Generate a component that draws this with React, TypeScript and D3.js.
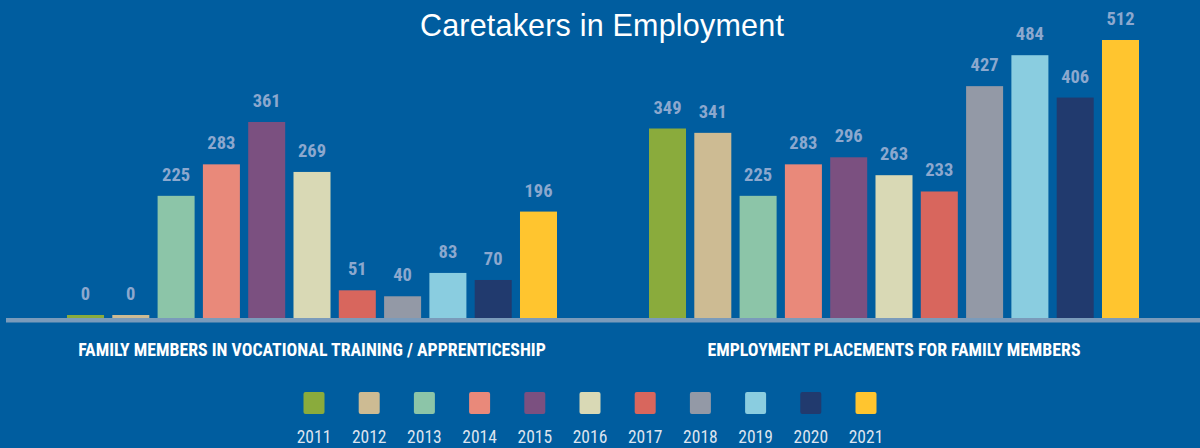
import React from "react";
import * as d3 from "d3";

const years = ["2011","2012","2013","2014","2015","2016","2017","2018","2019","2020","2021"];
const trainingValues = [0, 0, 225, 283, 361, 269, 51, 40, 83, 70, 196];
const placementValues = [349, 341, 225, 283, 296, 263, 233, 427, 484, 406, 512];
const yearColors = ["#8aab3c","#cdbb93","#8cc5a8","#e9897a","#7b5080","#d9d9b5","#d8665d","#9399a6","#8acde0","#213a6e","#ffc52f"];
const groupTitles = ["FAMILY MEMBERS IN VOCATIONAL TRAINING / APPRENTICESHIP", "EMPLOYMENT PLACEMENTS FOR FAMILY MEMBERS"];
const chartTitle = "Caretakers in Employment";

const W = 1200, H = 448;
const BASE = 318;
const condensed = "'Liberation Sans Narrow', 'Roboto Condensed', 'DejaVu Sans Condensed', Arial, sans-serif";

export default function App() {
  const y = d3.scaleLinear().domain([0, 512]).range([BASE, 40]);
  const groups = [
    { values: trainingValues, x: d3.scaleBand<string>().domain(years).range([67, 557]).paddingInner(0.183).paddingOuter(0), title: groupTitles[0] },
    { values: placementValues, x: d3.scaleBand<string>().domain(years).range([649, 1139]).paddingInner(0.183).paddingOuter(0), title: groupTitles[1] },
  ];
  const color = d3.scaleOrdinal<string, string>().domain(years).range(yearColors);
  const legendX = d3.scalePoint<string>().domain(years).range([314, 866]);

  return (
    <svg width={W} height={H} style={{ position: "absolute", left: 0, top: 0, display: "block" }}>
      <rect x={0} y={0} width={W} height={H} fill="#005d9f" />
      <text x={602} y={36} textAnchor="middle" fill="#ffffff" fontFamily="'Liberation Sans', Arial, sans-serif" fontSize={30.5} letterSpacing={0.2}>{chartTitle}</text>
      {groups.map((g, gi) => {
        const [r0, r1] = g.x.range();
        return (
          <g key={gi}>
            {years.map((yr, i) => {
              const v = g.values[i];
              const top = Math.min(y(v), BASE - 3);
              const bx = g.x(yr)!;
              const bw = g.x.bandwidth();
              return (
                <g key={yr}>
                  <rect x={bx} y={top} width={bw} height={BASE - top} fill={color(yr)} />
                  <text x={bx + bw / 2} y={top - 15} textAnchor="middle" fill="#8ca8ce" fontFamily={condensed} fontWeight="bold" fontSize={18.5}>{v}</text>
                </g>
              );
            })}
            <text x={(r0 + r1) / 2} y={356} textAnchor="middle" fill="#ffffff" fontFamily={condensed} fontWeight="bold" fontSize={17.8}>{g.title}</text>
          </g>
        );
      })}
      <rect x={6} y={318} width={W - 6} height={4.5} fill="#7a9bbb" />
      {years.map((yr) => (
        <g key={yr}>
          <rect x={legendX(yr)! - 10.5} y={392} width={21} height={22} rx={2} fill={color(yr)} />
          <text x={legendX(yr)!} y={443} textAnchor="middle" fill="#dce4ef" fontFamily={condensed} fontSize={17.5}>{yr}</text>
        </g>
      ))}
    </svg>
  );
}
